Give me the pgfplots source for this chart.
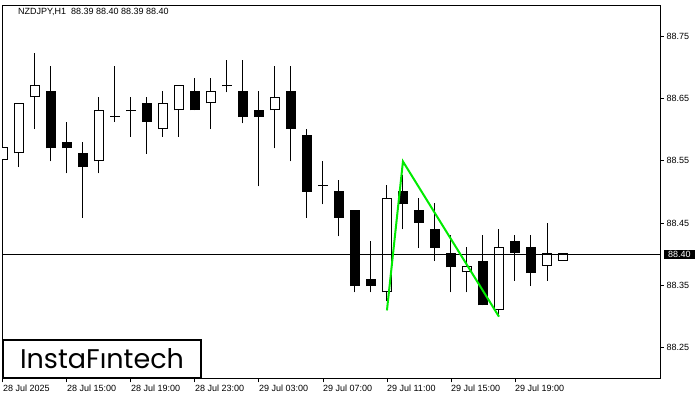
\documentclass[border=0pt]{standalone}
\usepackage{pgfplots}
\pgfplotsset{compat=1.18}
\usepackage{pgfplotstable}
\usepackage{fontspec}
\setmainfont{Liberation Sans}
\newfontfamily\logofont{Poppins}

% hourly candles, i = bar index (0 = 28 Jul 11:00)
\pgfplotstableread{
i  o      h      l      c
0  88.551 88.612 88.491 88.572
1  88.562 88.642 88.540 88.642
2  88.652 88.723 88.601 88.671
6  88.549 88.652 88.530 88.631
10 88.601 88.662 88.589 88.642
11 88.631 88.671 88.589 88.671
13 88.642 88.683 88.601 88.662
17 88.631 88.702 88.570 88.652
24 88.339 88.511 88.325 88.491
29 88.371 88.411 88.339 88.381
31 88.310 88.440 88.300 88.411
34 88.381 88.451 88.358 88.402
35 88.390 88.402 88.390 88.402
}\bull

\pgfplotstableread{
i  o      h      l      c
3  88.662 88.702 88.549 88.570
4  88.581 88.612 88.530 88.570
5  88.562 88.581 88.459 88.540
7  88.622 88.702 88.612 88.6204
8  88.631 88.652 88.589 88.6294
9  88.642 88.652 88.561 88.612
12 88.662 88.683 88.631 88.631
14 88.671 88.711 88.660 88.6694
15 88.662 88.711 88.610 88.620
16 88.631 88.662 88.509 88.620
18 88.662 88.702 88.549 88.601
19 88.591 88.601 88.459 88.500
20 88.511 88.549 88.480 88.5094
21 88.501 88.520 88.429 88.459
22 88.471 88.471 88.339 88.349
23 88.360 88.421 88.339 88.349
25 88.501 88.527 88.440 88.480
26 88.471 88.491 88.410 88.451
27 88.440 88.482 88.389 88.410
28 88.402 88.431 88.339 88.379
30 88.390 88.431 88.318 88.318
32 88.421 88.431 88.358 88.402
33 88.411 88.431 88.349 88.370
}\bear

\pgfplotsset{
  candle/.style={draw=none, mark=none, error bars/.cd, y dir=plus, y explicit,
    error mark=none, error bar style={#1}},
}

\begin{document}
\begin{tikzpicture}
\path[use as bounding box] (0,0) rectangle (700bp,400bp);
\begin{axis}[
  at={(2bp,21bp)}, anchor=south west,
  scale only axis, width=658bp, height=374bp,
  xmin=-0.05, xmax=41.06, ymin=88.2, ymax=88.8,
  axis line style={black, line width=1bp},
  tick style={black, line width=0.8bp},
  tick align=outside, major tick length=3.5bp,
  xtick pos=left, ytick pos=right,
  xtick={0,4,8,12,16,20,24,28,32},
  xticklabels={28 Jul 2025,28 Jul 15:00,28 Jul 19:00,28 Jul 23:00,29 Jul 03:00,29 Jul 07:00,29 Jul 11:00,29 Jul 15:00,29 Jul 19:00},
  ytick={88.25,88.35,88.45,88.55,88.65,88.75},
  extra y ticks={88.40},
  extra y tick style={major tick length=0pt,
    yticklabel style={fill=black, text=white, inner xsep=4bp, inner ysep=1.5bp, xshift=2bp}},
  yticklabel style={/pgf/number format/.cd, fixed, fixed zerofill, precision=2, /tikz/.cd,
    anchor=west, inner xsep=1bp, xshift=2bp},
  xticklabel style={anchor=north west, inner sep=0pt, yshift=-2bp},
  /pgf/number format/assume math mode=true,
  tick label style={font=\fontsize{9bp}{10bp}\selectfont},
  clip=true,
]
% wicks
\addplot[candle={black, line width=1bp}]
  table[x=i, y=l, y error plus expr=\thisrow{h}-\thisrow{l}] {\bull};
\addplot[candle={black, line width=1bp}]
  table[x=i, y=l, y error plus expr=\thisrow{h}-\thisrow{l}] {\bear};
% black bodies
\addplot[candle={black, line width=10.5bp}]
  table[x=i, y=c, y error plus expr=\thisrow{o}-\thisrow{c}] {\bear};
% white bodies: outline, then inside
\addplot[candle={black, line width=10.5bp}]
  table[x=i, y=o, y error plus expr=\thisrow{c}-\thisrow{o}] {\bull};
\addplot[candle={white, line width=8.5bp}]
  table[x=i, y expr=\thisrow{o}+0.0016, y error plus expr=\thisrow{c}-\thisrow{o}-0.0032] {\bull};
% bid line
\addplot[black, line width=1bp] coordinates {(-0.05,88.40) (41.06,88.40)};
% pattern
\addplot[color={rgb,255:red,0;green,235;blue,0}, line width=2bp] coordinates {(24,88.310) (25,88.549) (31,88.300)};
\end{axis}
\node[anchor=west, inner sep=0pt, font=\fontsize{9bp}{10bp}\selectfont] at (18bp,388bp)
  {NZDJPY,H1\ \ 88.39 88.40 88.39 88.40};
\node[draw=black, line width=2.5bp, fill=white, minimum width=198bp, minimum height=38bp, inner sep=0pt]
  at (102bp,41bp) {\logofont\fontsize{27bp}{27bp}\selectfont InstaFıntech};
\end{tikzpicture}
\end{document}
